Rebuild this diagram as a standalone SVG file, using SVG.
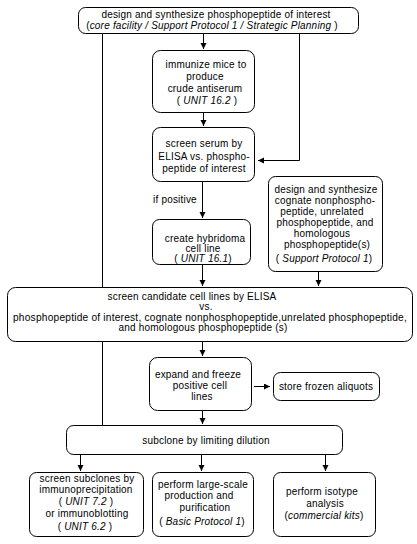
<svg xmlns="http://www.w3.org/2000/svg" width="417" height="544" viewBox="0 0 417 544">
<style>
text{font-family:"Liberation Sans",Arial,sans-serif;font-size:10px;fill:#000;text-anchor:middle;letter-spacing:0.2px}
.it{font-style:italic}
.box{fill:#fff;stroke:#000;stroke-width:1}
.ln{fill:none;stroke:#000;stroke-width:1}
.arr{marker-end:url(#ah)}
</style>
<defs>
<marker id="ah" markerUnits="userSpaceOnUse" markerWidth="7" markerHeight="7" refX="6" refY="3" orient="auto">
<path d="M0,0 L6,3 L0,6 z" fill="#000"/>
</marker>
</defs>
<rect width="417" height="544" fill="#fff"/>
<g id="connectors">
<line class="ln" x1="102.5" y1="34" x2="102.5" y2="287"/>
<line class="ln" x1="102.5" y1="342" x2="102.5" y2="425"/>
<polyline class="ln arr" points="299.5,34 299.5,160.5 258,160.5"/>
<line class="ln arr" x1="203.5" y1="34" x2="203.5" y2="49"/>
<line class="ln arr" x1="203.5" y1="113" x2="203.5" y2="126"/>
<line class="ln arr" x1="202.5" y1="182" x2="202.5" y2="218"/>
<line class="ln arr" x1="202.5" y1="265" x2="202.5" y2="286"/>
<line class="ln arr" x1="318.5" y1="272" x2="318.5" y2="286"/>
<line class="ln arr" x1="202.5" y1="342" x2="202.5" y2="356"/>
<line class="ln arr" x1="254" y1="386.5" x2="270" y2="386.5"/>
<line class="ln arr" x1="202.5" y1="411" x2="202.5" y2="424"/>
<line class="ln arr" x1="80.5" y1="455" x2="80.5" y2="471"/>
<line class="ln arr" x1="201.5" y1="455" x2="201.5" y2="471"/>
<line class="ln arr" x1="325.5" y1="455" x2="325.5" y2="471"/>
</g>
<g id="n_design">
<rect class="box" x="78.5" y="7.5" width="280" height="26" rx="7"/>
<text x="216" y="18">design and synthesize phosphopeptide of interest</text>
<text x="212" y="29">(<tspan class="it">core facility / Support Protocol 1 / Strategic Planning</tspan> )</text>
</g>
<g id="n_immunize">
<rect class="box" x="152.5" y="50.5" width="102" height="62" rx="8"/>
<text x="206" y="68">immunize mice to</text>
<text x="205" y="80">produce</text>
<text x="205" y="92">crude antiserum</text>
<text x="207" y="104">( <tspan class="it">UNIT 16.2</tspan> )</text>
</g>
<g id="n_screenserum">
<rect class="box" x="152.5" y="127.5" width="102" height="54" rx="8"/>
<text x="204" y="147">screen serum by</text>
<text x="204" y="160">ELISA vs. phospho-</text>
<text x="204" y="172">peptide of interest</text>
</g>
<text x="153" y="203" style="text-anchor:start">if positive</text>
<g id="n_hybridoma">
<rect class="box" x="152.5" y="219.5" width="98" height="45" rx="7"/>
<text x="205" y="242">create hybridoma</text>
<text x="203" y="252">cell line</text>
<text x="203" y="262">( <tspan class="it">UNIT 16.1</tspan>)</text>
</g>
<g id="n_cognate">
<rect class="box" x="268.5" y="176.5" width="114" height="95" rx="7"/>
<text x="326" y="193">design and synthesize</text>
<text x="325" y="204">cognate nonphospho-</text>
<text x="322" y="215">peptide, unrelated</text>
<text x="325" y="226">phosphopeptide, and</text>
<text x="322" y="237">homologous</text>
<text x="327" y="248">phosphopeptide(s)</text>
<text x="324" y="262">( <tspan class="it">Support Protocol 1</tspan>)</text>
</g>
<g id="n_candidate">
<rect class="box" x="7.5" y="287.5" width="405" height="54" rx="8"/>
<text x="192" y="300">screen candidate cell lines by ELISA</text>
<text x="206" y="310">vs.</text>
<text x="210" y="321" textLength="394" lengthAdjust="spacingAndGlyphs">phosphopeptide of interest, cognate nonphosphopeptide,unrelated phosphopeptide,</text>
<text x="203" y="331">and homologous phosphopeptide (s)</text>
</g>
<g id="n_expand">
<rect class="box" x="149.5" y="357.5" width="102" height="53" rx="8"/>
<text x="198" y="378">expand and freeze</text>
<text x="200" y="389">positive cell</text>
<text x="202" y="400">lines</text>
</g>
<g id="n_store">
<rect class="box" x="273.5" y="372.5" width="106" height="28" rx="7"/>
<text x="326" y="390">store frozen aliquots</text>
</g>
<g id="n_subclone">
<rect class="box" x="66.5" y="425.5" width="276" height="29" rx="7"/>
<text x="206" y="444">subclone by limiting dilution</text>
</g>
<g id="n_subclones">
<rect class="box" x="29.5" y="472.5" width="114" height="64" rx="7"/>
<text x="87" y="482">screen subclones by</text>
<text x="86" y="493">immunoprecipitation</text>
<text x="86" y="505">( <tspan class="it">UNIT 7.2</tspan> )</text>
<text x="87" y="517">or immunoblotting</text>
<text x="85" y="530">( <tspan class="it">UNIT 6.2</tspan> )</text>
</g>
<g id="n_largescale">
<rect class="box" x="152.5" y="472.5" width="101" height="64" rx="7"/>
<text x="203" y="488">perform large-scale</text>
<text x="199" y="499">production and</text>
<text x="205" y="511">purification</text>
<text x="202" y="525">( <tspan class="it">Basic Protocol 1</tspan>)</text>
</g>
<g id="n_isotype">
<rect class="box" x="273.5" y="472.5" width="102" height="64" rx="7"/>
<text x="322" y="495">perform isotype</text>
<text x="325" y="507">analysis</text>
<text x="324" y="519">(<tspan class="it">commercial kits</tspan>)</text>
</g>
</svg>
